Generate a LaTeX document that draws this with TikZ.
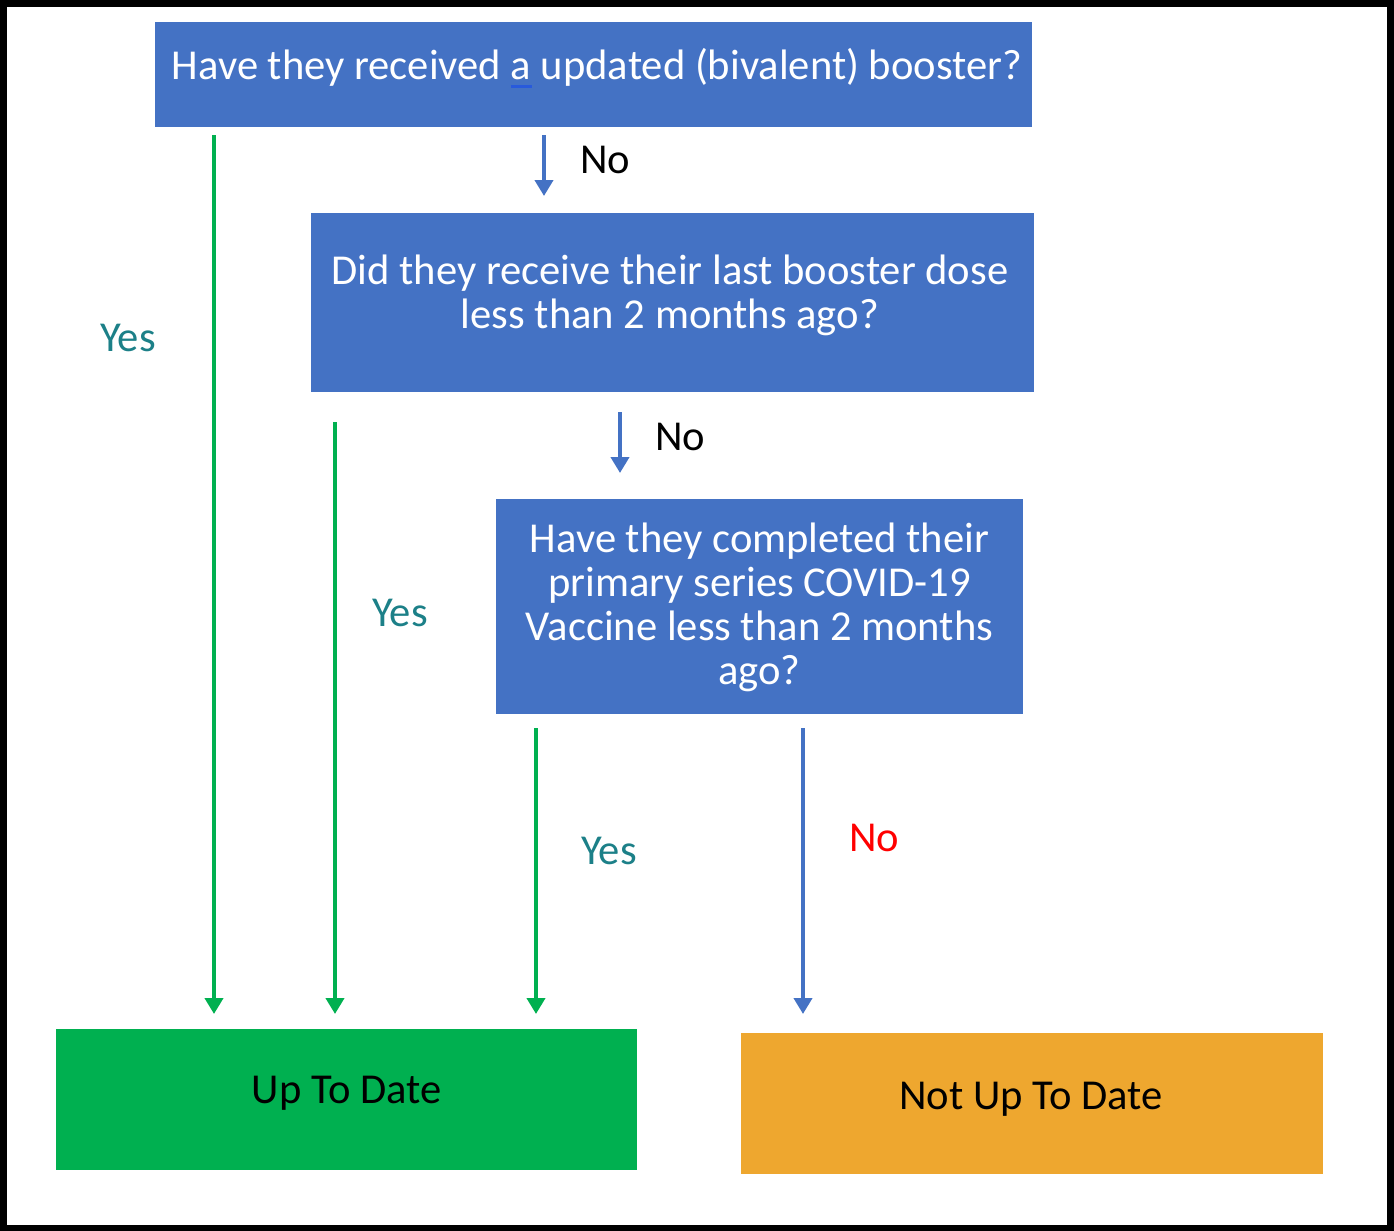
\documentclass[tikz,border=0pt]{standalone}
\usepackage{fontspec}
\setmainfont{Carlito}
\usetikzlibrary{arrows.meta}
\definecolor{qblue}{RGB}{68,114,196}
\definecolor{qgreen}{RGB}{0,176,80}
\definecolor{qorange}{RGB}{238,167,47}
\definecolor{qteal}{RGB}{28,128,136}
\definecolor{qred}{RGB}{255,0,0}
\definecolor{ulblue}{RGB}{40,90,220}
\tikzset{
  qbox/.style={fill=qblue, draw=none, text=white, align=center, font=\fontsize{21.3}{22}\selectfont, inner sep=0pt},
  endbox/.style={draw=none, text=black, font=\fontsize{21.3}{22}\selectfont, inner sep=0pt},
  yesarrow/.style={draw=qgreen, line width=2pt, -{Triangle[width=9pt,length=8pt]}},
  noarrow/.style={draw=qblue, line width=2pt, -{Triangle[width=9pt,length=8pt]}},
  lbl/.style={font=\fontsize{21.3}{22}\selectfont, inner sep=0pt}
}
\newcommand{\ulmark}[1]{\rlap{\textcolor{ulblue}{\rule[-4pt]{0.5em}{1.3pt}}}#1}
\begin{document}
\begin{tikzpicture}[x=0.5pt,y=-0.5pt]
\useasboundingbox (0,0) rectangle (1394,1231);
\fill[white] (0,0) rectangle (1394,1231);
\draw[black, line width=3.5pt] (3.5,3.5) rectangle (1390,1228);
% boxes
\fill[qblue] (155,22) rectangle (1032,127);
\node[qbox] (q1) at (597,68) {Have they received \ulmark{a} updated (bivalent) booster?};
\fill[qblue] (311,213) rectangle (1034,392);
\node[qbox] (q2) at (670,295.5) {Did they receive their last booster dose\\less than 2 months ago?};
\fill[qblue] (496,499) rectangle (1023,714);
\node[qbox] (q3) at (759.5,607) {Have they completed their\\primary series COVID-19\\Vaccine less than 2 months\\ago?};
\fill[qgreen] (56,1029) rectangle (637,1170);
\node[endbox] (utd) at (346.5,1093) {Up To Date};
\fill[qorange] (741,1033) rectangle (1323,1174);
\node[endbox] (nutd) at (1031,1099) {Not Up To Date};
% connector coordinates
\coordinate (a1s) at (214,135); \coordinate (a1e) at (214,1014);
\coordinate (a2s) at (335,422); \coordinate (a2e) at (335,1014);
\coordinate (a3s) at (536,728); \coordinate (a3e) at (536,1014);
\coordinate (n1s) at (544,135); \coordinate (n1e) at (544,196);
\coordinate (n2s) at (620,412); \coordinate (n2e) at (620,473);
\coordinate (n3s) at (803,728); \coordinate (n3e) at (803,1014);
\draw[yesarrow] (a1s) -- (a1e);
\draw[yesarrow] (a2s) -- (a2e);
\draw[yesarrow] (a3s) -- (a3e);
\draw[noarrow] (n1s) -- (n1e);
\draw[noarrow] (n2s) -- (n2e);
\draw[noarrow] (n3s) -- (n3e);
% labels
\node[lbl] (l1) at (605,160) {No};
\node[lbl] (l2) at (680,437) {No};
\node[lbl, text=qteal] (y1) at (128,338) {Yes};
\node[lbl, text=qteal] (y2) at (400,613) {Yes};
\node[lbl, text=qteal] (y3) at (609,851) {Yes};
\node[lbl, text=qred] (l3) at (874,838) {No};
\end{tikzpicture}
\end{document}
